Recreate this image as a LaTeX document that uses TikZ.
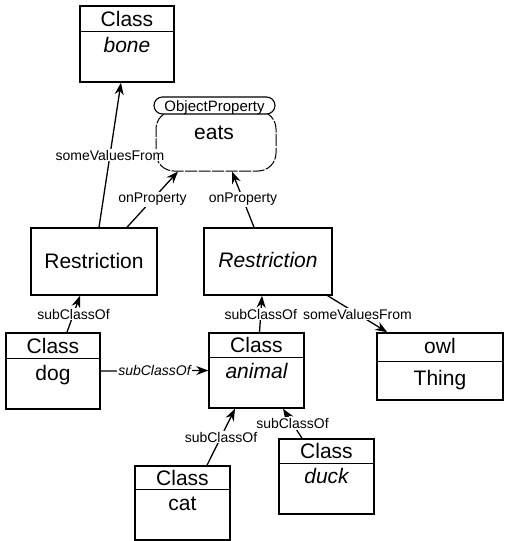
\documentclass[tikz,border=0pt]{standalone}
\usepackage{fontspec}
\setmainfont{Liberation Sans}
\usetikzlibrary{arrows.meta}
\begin{document}
\begin{tikzpicture}[x=1pt,y=-1pt,
  box/.style={draw, line width=1.5pt, rectangle, inner sep=0pt},
  cls/.style={font=\fontsize{21}{21}\selectfont, anchor=base, inner sep=0pt},
  small/.style={font=\fontsize{15}{15}\selectfont, anchor=base, inner sep=0pt},
  lbl/.style={font=\fontsize{14}{14}\selectfont, fill=white, inner sep=1pt},
  link/.style={line width=1.3pt, -{Stealth[length=12pt,width=9pt]}},
  divider/.style={line width=1.3pt},
]
\useasboundingbox (0,0) rectangle (505,541);

% ---- boxes ----
\node[box, minimum width=94pt, minimum height=76pt] (bone) at (127,44) {};
\node[box, minimum width=94pt, minimum height=76pt] (dog) at (53,371) {};
\node[box, minimum width=95pt, minimum height=75pt] (animal) at (256.5,370.5) {};
\node[box, minimum width=95pt, minimum height=74pt] (cat) at (182.5,503) {};
\node[box, minimum width=95pt, minimum height=75pt] (duck) at (326.5,476.5) {};
\node[box, minimum width=126pt, minimum height=67pt] (owl) at (440,366.5) {};
\node[box, minimum width=126pt, minimum height=67pt] (restrL) at (94,261.5) {};
\node[box, minimum width=128pt, minimum height=67pt] (restrR) at (268,261.5) {};

% eats property
\node[draw, line width=1pt, rounded corners=18pt, minimum width=120pt, minimum height=60pt, inner sep=0pt,
      dash pattern=on 12pt off 1.5pt] (eats) at (216,141) {};
\node[draw, line width=1.1pt, fill=white, rounded corners=8.5pt, minimum width=121pt, minimum height=17pt, inner sep=0pt] (tab) at (214.5,105.5) {};

% ---- dividers ----
\draw[divider] ([yshift=-26pt]bone.north west) -- ([yshift=-26pt]bone.north east);
\draw[divider] ([yshift=-26pt]dog.north west) -- ([yshift=-26pt]dog.north east);
\draw[divider] ([yshift=-25pt]animal.north west) -- ([yshift=-25pt]animal.north east);
\draw[divider] ([yshift=-24pt]cat.north west) -- ([yshift=-24pt]cat.north east);
\draw[divider] ([yshift=-25pt]duck.north west) -- ([yshift=-25pt]duck.north east);
\draw[divider] ([yshift=-29pt]owl.north west) -- ([yshift=-29pt]owl.north east);

% ---- texts ----
\node[cls] (boneC) at (127,26) {Class};
\node[cls] (boneN) at (127,52) {\itshape bone};
\node[cls] (dogC) at (53,353) {Class};
\node[cls] (dogN) at (53,380) {dog};
\node[cls] (animalC) at (256.5,352) {Class};
\node[cls] (animalN) at (256.5,378) {\itshape animal};
\node[cls] (catC) at (182.5,485) {Class};
\node[cls] (catN) at (182.5,510) {cat};
\node[cls] (duckC) at (326.5,458) {Class};
\node[cls] (duckN) at (326.5,483) {\itshape duck};
\node[cls] (owlC) at (440,353) {owl};
\node[cls] (owlN) at (440,385) {Thing};
\node[cls] (restrLT) at (94,268) {Restriction};
\node[cls] (restrRT) at (268,267) {\itshape Restriction};
\node[small] (tabT) at (214.5,111) {ObjectProperty};
\node[cls] (eatsT) at (214,139) {eats};

% ---- connectors ----
\draw[link] ([xshift=5pt]restrL.north) -- node[lbl] {someValuesFrom} ([xshift=-6pt]bone.south);
\draw[link] ([xshift=33pt]restrL.north) -- node[lbl] {onProperty} ([xshift=-38pt]eats.south);
\draw[link] ([xshift=-14pt]restrR.north) -- node[lbl] {onProperty} ([xshift=16pt]eats.south);
\draw[link] ([xshift=14pt]dog.north) -- node[lbl] {subClassOf} ([xshift=-14pt]restrL.south);
\draw[link] (dog.east) -- node[lbl] {\itshape subClassOf} (animal.west);
\draw[link] ([xshift=3pt]animal.north) -- node[lbl] {subClassOf} ([xshift=-6pt]restrR.south);
\draw[link] ([xshift=-5pt]restrR.south east) -- node[lbl] {someValuesFrom} ([xshift=11pt]owl.north west);
\draw[link] ([xshift=24.5pt]cat.north) -- node[lbl] {subClassOf} ([xshift=-21.5pt]animal.south);
\draw[link] ([xshift=-24.5pt]duck.north) -- node[lbl] {subClassOf} ([xshift=26.5pt]animal.south);
\end{tikzpicture}
\end{document}
